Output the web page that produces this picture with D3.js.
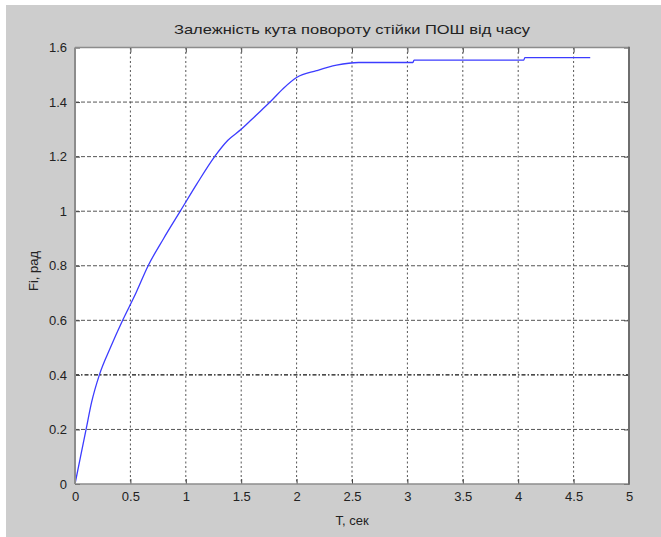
<!DOCTYPE html>
<html>
<head>
<meta charset="utf-8">
<script src="https://cdn.jsdelivr.net/npm/d3@7"></script>
<style>
  html, body { margin: 0; padding: 0; background: #ffffff; }
  svg { display: block; }
  text { font-family: "Liberation Sans", Arial, sans-serif; fill: #222; }
</style>
</head>
<body>
<svg id="chart" width="661" height="537"></svg>
<script>
// Time, s
const timeValues = [0, 0.05, 0.10, 0.15, 0.22, 0.32, 0.43, 0.55, 0.66, 0.80, 0.95, 1.10, 1.26, 1.38, 1.50, 1.63, 1.76, 1.88, 2.00, 2.18, 2.36, 2.56, 3.05, 3.06, 4.05, 4.06, 4.65];
// Rotation angle Fi, rad
const fiValues = [0, 0.10, 0.20, 0.30, 0.40, 0.50, 0.60, 0.70, 0.80, 0.90, 1.00, 1.10, 1.20, 1.26, 1.30, 1.35, 1.40, 1.45, 1.49, 1.515, 1.535, 1.545, 1.545, 1.554, 1.554, 1.563, 1.563];
const xTicks = [0, 0.5, 1, 1.5, 2, 2.5, 3, 3.5, 4, 4.5, 5];
const yTicks = [0, 0.2, 0.4, 0.6, 0.8, 1, 1.2, 1.4, 1.6];
const titleText = "Залежність кута повороту стійки ПОШ від часу";
const xLabel = "T, сек";
const yLabel = "Fi, рад";

const svg = d3.select("#chart");
const W = 661, H = 537;
const plot = { left: 75, right: 629, top: 47.5, bottom: 484 };

// figure background
svg.append("rect").attr("x", 6).attr("y", 5).attr("width", W - 6).attr("height", H - 5).attr("fill", "#cdcdcd");

const x = d3.scaleLinear().domain([0, 5]).range([plot.left, plot.right]);
const y = d3.scaleLinear().domain([0, 1.6]).range([plot.bottom, plot.top]);

// axes area
svg.append("rect")
  .attr("x", plot.left).attr("y", plot.top)
  .attr("width", plot.right - plot.left).attr("height", plot.bottom - plot.top)
  .attr("fill", "#ffffff");

// grid
const grid = svg.append("g");
grid.selectAll("line.vg").data(xTicks.slice(1, -1)).join("line")
  .attr("x1", d => x(d)).attr("x2", d => x(d))
  .attr("y1", plot.top).attr("y2", plot.bottom)
  .attr("stroke", "#555").attr("stroke-width", 1)
  .attr("stroke-dasharray", "2,2.5");
grid.selectAll("line.hg").data(yTicks.slice(1, -1)).join("line")
  .attr("x1", plot.left).attr("x2", plot.right)
  .attr("y1", d => y(d)).attr("y2", d => y(d))
  .attr("stroke", d => d === 0.4 ? "#111" : "#555")
  .attr("stroke-width", d => d === 0.4 ? 1.3 : 1)
  .attr("stroke-dasharray", d => d === 0.4 ? "4,2,1.5,2" : "4,2");

// curve
const pts = timeValues.map((t, i) => [t, fiValues[i]]);
svg.append("path")
  .datum(pts)
  .attr("fill", "none")
  .attr("stroke", "#3c3cff")
  .attr("stroke-width", 1.3)
  .attr("d", d3.line().curve(d3.curveMonotoneX).x(d => x(d[0])).y(d => y(d[1])));

// axes with inward ticks
const tickLen = 5;
const xAxisB = d3.axisBottom(x).tickValues(xTicks).tickSize(-tickLen).tickPadding(8).tickFormat(d3.format("~g"));
const xAxisT = d3.axisTop(x).tickValues(xTicks).tickSize(-tickLen).tickFormat("");
const yAxisL = d3.axisLeft(y).tickValues(yTicks).tickSize(-tickLen).tickPadding(8).tickFormat(d3.format("~g"));
const yAxisR = d3.axisRight(y).tickValues(yTicks).tickSize(-tickLen).tickFormat("");

function styleAxis(g) {
  g.select(".domain").remove();
  g.selectAll(".tick line").attr("stroke", "#444");
  g.selectAll(".tick text").attr("font-size", 13).attr("fill", "#333")
    .attr("font-family", "'Liberation Sans', Arial, sans-serif");
}
svg.append("g").attr("transform", `translate(0,${plot.bottom})`).call(xAxisB).call(styleAxis);
svg.append("g").attr("transform", `translate(0,${plot.top})`).call(xAxisT).call(styleAxis);
svg.append("g").attr("transform", `translate(${plot.left},0)`).call(yAxisL).call(styleAxis);
svg.append("g").attr("transform", `translate(${plot.right},0)`).call(yAxisR).call(styleAxis);

// axes box
svg.append("line").attr("x1", plot.left).attr("x2", plot.right).attr("y1", plot.top).attr("y2", plot.top)
  .attr("stroke", "#8c8c8c").attr("stroke-width", 1.6);
svg.append("line").attr("x1", plot.left).attr("x2", plot.right).attr("y1", plot.bottom).attr("y2", plot.bottom)
  .attr("stroke", "#8c8c8c").attr("stroke-width", 1.6);
svg.append("line").attr("x1", plot.left).attr("x2", plot.left).attr("y1", plot.top).attr("y2", plot.bottom)
  .attr("stroke", "#8c8c8c").attr("stroke-width", 2);
svg.append("line").attr("x1", plot.right).attr("x2", plot.right).attr("y1", plot.top - 0.8).attr("y2", plot.bottom + 0.8)
  .attr("stroke", "#6e6e6e").attr("stroke-width", 2);

// title and axis labels
svg.append("text")
  .attr("x", (plot.left + plot.right) / 2).attr("y", 34)
  .attr("text-anchor", "middle").attr("font-size", 13)
  .attr("textLength", 356).attr("lengthAdjust", "spacingAndGlyphs")
  .text(titleText);
svg.append("text")
  .attr("x", (plot.left + plot.right) / 2).attr("y", 525)
  .attr("text-anchor", "middle").attr("font-size", 13)
  .text(xLabel);
svg.append("text")
  .attr("transform", `translate(38,${271}) rotate(-90)`)
  .attr("text-anchor", "middle").attr("font-size", 13)
  .text(yLabel);
</script>
</body>
</html>
